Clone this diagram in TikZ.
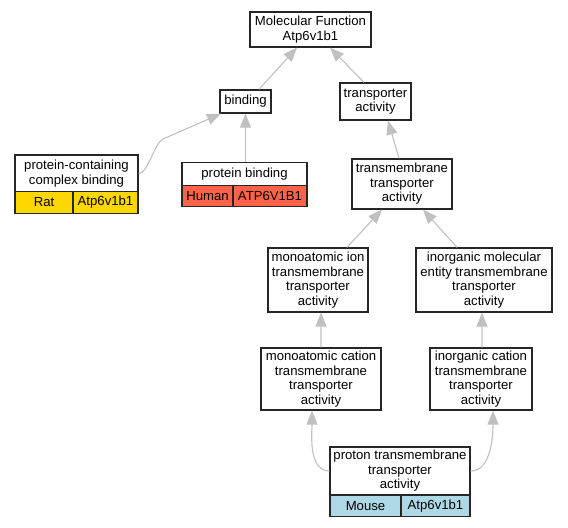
\documentclass[tikz,border=0pt]{standalone}
\usepackage{fontspec}
\setmainfont{Liberation Sans}
\usetikzlibrary{arrows.meta}
\definecolor{ratcol}{HTML}{FFD700}
\definecolor{humancol}{HTML}{FF6347}
\definecolor{mousecol}{HTML}{ADD8E6}
\definecolor{edgecol}{HTML}{C0C0C0}
\begin{document}
\begin{tikzpicture}[x=1bp,y=1bp,
		term/.style={draw=black!85,line width=1.3bp,fill=white,inner sep=0pt,align=center,font=\fontsize{13.2}{14.5}\selectfont},
		cell/.style={term,minimum height=21.5bp},
		edge/.style={draw=edgecol,line width=1.1bp,-{Triangle[length=14bp,width=11bp,fill=edgecol]}}]
		\useasboundingbox (0,0) rectangle (568,528);

		\node[term,minimum width=121bp,minimum height=35bp] (mf) at (310.5,498.5) {Molecular Function\\Atp6v1b1};
		\node[term,minimum width=51bp,minimum height=23bp] (binding) at (245.5,426.5) {binding};
		\node[term,minimum width=71bp,minimum height=37bp] (ta) at (375.5,426.5) {transporter\\activity};
		\node[term,minimum width=123bp,minimum height=37bp] (pccb) at (76.5,354.5) {protein-containing\\complex binding};
		\node[cell,fill=ratcol,minimum width=58bp] (rat) at (44,325.5) {Rat};
		\node[cell,fill=ratcol,minimum width=65bp] (ratgene) at (105.5,325.5) {Atp6v1b1};
		\node[term,minimum width=125bp,minimum height=22.5bp] (pb) at (244.5,354) {protein binding};
		\node[cell,fill=humancol,minimum width=51bp] (human) at (207.5,332) {Human};
		\node[cell,fill=humancol,minimum width=74bp] (humangene) at (270,332) {ATP6V1B1};
		\node[term,minimum width=100bp,minimum height=50bp] (tta) at (402,344) {transmembrane\\transporter\\activity};
		\node[term,minimum width=100bp,minimum height=64bp] (monoion) at (318,248) {monoatomic ion\\transmembrane\\transporter\\activity};
		\node[term,minimum width=136bp,minimum height=64bp] (inorgmol) at (484,248) {inorganic molecular\\entity transmembrane\\transporter\\activity};
		\node[term,minimum width=120bp,minimum height=62bp] (monocat) at (321,149) {monoatomic cation\\transmembrane\\transporter\\activity};
		\node[term,minimum width=102bp,minimum height=62bp] (inorgcat) at (481,149) {inorganic cation\\transmembrane\\transporter\\activity};
		\node[term,minimum width=140bp,minimum height=48bp] (proton) at (400,57) {proton transmembrane\\transporter\\activity};
		\node[cell,fill=mousecol,minimum width=71bp] (mouse) at (365.5,22) {Mouse};
		\node[cell,fill=mousecol,minimum width=69bp] (mousegene) at (435.5,22) {Atp6v1b1};

		\draw[edge] ([xshift=13.5bp]binding.north) -- ([xshift=-13.5bp]mf.south);
		\draw[edge] ([xshift=-11.5bp]ta.north) -- ([xshift=19.5bp]mf.south);
		\draw[edge] (pccb.east) .. controls (148,354.5) and (154,384.5) .. (163,389) -- ([xshift=-24.5bp]binding.south);
		\draw[edge] (binding.south |- pb.north) -- (binding.south);
		\draw[edge] ([xshift=-3bp]tta.north) -- ([xshift=12.5bp]ta.south);
		\draw[edge] ([xshift=29bp]monoion.north) -- ([xshift=-20bp]tta.south);
		\draw[edge] ([xshift=-27bp]inorgmol.north) -- ([xshift=21bp]tta.south);
		\draw[edge] (monocat.north) -- ([xshift=3bp]monoion.south);
		\draw[edge] ([xshift=1bp]inorgcat.north) -- ([xshift=-2bp]inorgmol.south);
		\draw[edge] (proton.west) .. controls (308,57) and (312,95) .. ([xshift=-9bp]monocat.south);
		\draw[edge] (proton.east) .. controls (492,57) and (493,95) .. ([xshift=12bp]inorgcat.south);
\end{tikzpicture}
\end{document}
